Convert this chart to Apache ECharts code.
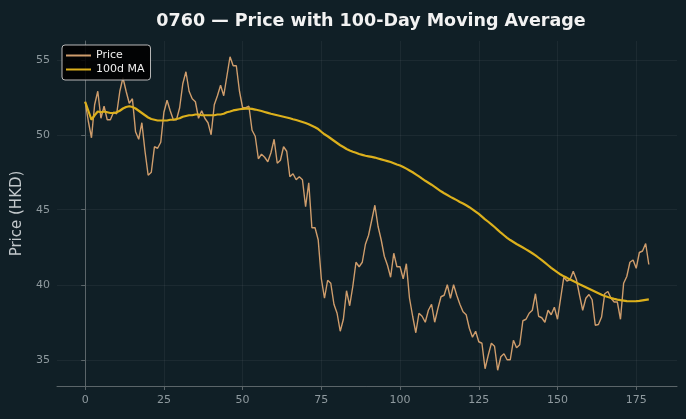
<!DOCTYPE html>
<html>
<head>
<meta charset="utf-8">
<script src="https://cdn.jsdelivr.net/npm/echarts@6/dist/echarts.min.js"></script>
<style>
html,body{margin:0;padding:0;background:#101f26;}
#chart{width:686px;height:419px;}
</style>
</head>
<body>
<div id="chart"></div>
<script>
const titleText = "0760 — Price with 100-Day Moving Average";
const yAxisName = "Price (HKD)";
const seriesNames = ["Price", "100d MA"];
const xTicks = [0, 25, 50, 75, 100, 125, 150, 175];
const yTicks = [35, 40, 45, 50, 55];

const price = [
52.2,50.9,49.8,52.0,52.9,51.1,51.9,51.0,51.0,51.5,
51.4,52.9,53.8,52.9,52.1,52.4,50.2,49.7,50.8,48.9,
47.3,47.5,49.2,49.1,49.5,51.5,52.3,51.6,51.0,51.0,
51.8,53.4,54.2,52.9,52.4,52.2,51.1,51.6,51.1,50.8,
50.0,52.0,52.6,53.3,52.6,53.9,55.2,54.6,54.6,52.9,
51.8,51.8,51.9,50.3,49.9,48.4,48.7,48.5,48.2,48.8,
49.7,48.1,48.3,49.2,48.9,47.2,47.4,47.0,47.2,47.0,
45.2,46.8,43.8,43.8,43.0,40.4,39.1,40.3,40.1,38.7,
38.1,36.9,37.7,39.6,38.6,39.9,41.5,41.2,41.5,42.7,
43.3,44.3,45.3,43.9,43.0,41.9,41.3,40.5,42.1,41.2,
41.2,40.4,41.4,39.1,37.9,36.8,38.1,37.9,37.5,38.3,
38.7,37.5,38.4,39.2,39.3,40.0,39.1,40.0,39.3,38.7,
38.2,38.0,37.1,36.5,36.9,36.2,36.1,34.4,35.3,36.1,
35.9,34.3,35.2,35.4,35.0,35.0,36.3,35.8,36.0,37.6,
37.7,38.1,38.3,39.4,37.9,37.8,37.5,38.3,38.0,38.5,
37.7,39.1,40.5,40.25,40.35,40.9,40.35,39.3,38.3,39.1,
39.35,39.0,37.3,37.35,37.85,39.4,39.55,39.1,38.85,38.85,
37.7,40.1,40.55,41.5,41.65,41.1,42.15,42.25,42.75,41.35
];

const ma100 = [
52.2,51.6,51.0,51.3,51.55,51.5,51.55,51.5,51.45,51.45,
51.5,51.6,51.75,51.85,51.9,51.85,51.75,51.6,51.45,51.3,
51.15,51.05,51.0,50.95,50.95,50.95,50.95,51.0,51.0,51.05,
51.1,51.2,51.25,51.3,51.3,51.35,51.35,51.3,51.3,51.3,
51.3,51.3,51.35,51.35,51.4,51.5,51.55,51.62,51.66,51.7,
51.72,51.74,51.74,51.72,51.68,51.63,51.58,51.52,51.46,51.4,
51.35,51.3,51.25,51.2,51.15,51.1,51.03,50.98,50.92,50.85,
50.78,50.7,50.6,50.5,50.38,50.2,50.03,49.9,49.75,49.6,
49.45,49.3,49.18,49.05,48.95,48.87,48.8,48.72,48.66,48.6,
48.56,48.52,48.48,48.42,48.36,48.3,48.24,48.18,48.1,48.02,
47.95,47.85,47.74,47.62,47.5,47.36,47.22,47.07,46.93,46.8,
46.67,46.53,46.38,46.23,46.1,45.98,45.86,45.75,45.64,45.52,
45.42,45.3,45.17,45.03,44.88,44.72,44.54,44.36,44.2,44.03,
43.85,43.66,43.47,43.3,43.13,42.98,42.85,42.72,42.6,42.48,
42.36,42.23,42.1,41.96,41.8,41.64,41.47,41.3,41.13,40.97,
40.82,40.68,40.56,40.46,40.35,40.25,40.14,40.03,39.93,39.83,
39.73,39.63,39.53,39.43,39.33,39.25,39.18,39.12,39.06,39.01,
38.97,38.94,38.91,38.9,38.9,38.91,38.93,38.96,38.99,39.02
];

const priceData = price.map((v, i) => [i, v]);
const maData = ma100.map((v, i) => [i, v]);

const chart = echarts.init(document.getElementById('chart'), null, {renderer: 'canvas'});
const axisColor = '#5b6569';
const labelColor = '#8f9a9f';
const gridColor = 'rgba(255,255,255,0.05)';
const FONT = 'DejaVu Sans';

chart.setOption({
  backgroundColor: '#101f26',
  animation: false,
  title: {
    text: titleText,
    left: 366, top: 7, textAlign: 'center',
    textStyle: {color: '#f2f2f2', fontSize: 17.5, fontWeight: 'bold', fontFamily: FONT}
  },
  legend: {
    orient: 'vertical',
    left: 62, top: 45,
    padding: [5, 6, 5, 3],
    itemGap: 3,
    itemWidth: 25, itemHeight: 11,
    backgroundColor: 'rgba(0,0,0,0.88)',
    borderColor: '#b8b8b8', borderWidth: 1, borderRadius: 3,
    itemStyle: {opacity: 0, borderWidth: 0},
    textStyle: {color: '#eeeeee', fontSize: 11, fontFamily: FONT},
    data: seriesNames
  },
  grid: {left: 57, right: 9, top: 41, bottom: 33, containLabel: false},
  xAxis: {
    type: 'value',
    min: -8.95, max: 187.95,
    axisLine: {show: true, lineStyle: {color: axisColor, width: 1}},
    axisTick: {show: true, length: 4, lineStyle: {color: axisColor}, customValues: xTicks},
    axisLabel: {color: labelColor, fontSize: 11, fontFamily: FONT, margin: 9, customValues: xTicks},
    splitLine: {show: true, lineStyle: {color: gridColor, width: 1}}
  },
  yAxis: {
    type: 'value',
    min: 33.25, max: 56.25,
    name: yAxisName,
    nameLocation: 'middle',
    nameGap: 32,
    nameTextStyle: {color: '#c3c9cc', fontSize: 15, fontFamily: FONT},
    axisLine: {show: true, lineStyle: {color: axisColor, width: 1}},
    axisTick: {show: true, length: 4, lineStyle: {color: axisColor}, customValues: yTicks},
    axisLabel: {color: labelColor, fontSize: 11, fontFamily: FONT, margin: 7, customValues: yTicks},
    splitLine: {show: true, lineStyle: {color: gridColor, width: 1}}
  },
  series: [
    {
      name: seriesNames[0], type: 'line', data: priceData,
      showSymbol: false, symbol: 'none',
      lineStyle: {color: '#cf9d6c', width: 1.4},
      itemStyle: {color: '#cf9d6c'},
      z: 2
    },
    {
      name: seriesNames[1], type: 'line', data: maData,
      showSymbol: false, symbol: 'none',
      lineStyle: {color: '#dcb01c', width: 2.2},
      itemStyle: {color: '#dcb01c'},
      z: 3
    }
  ]
});
</script>
</body>
</html>
